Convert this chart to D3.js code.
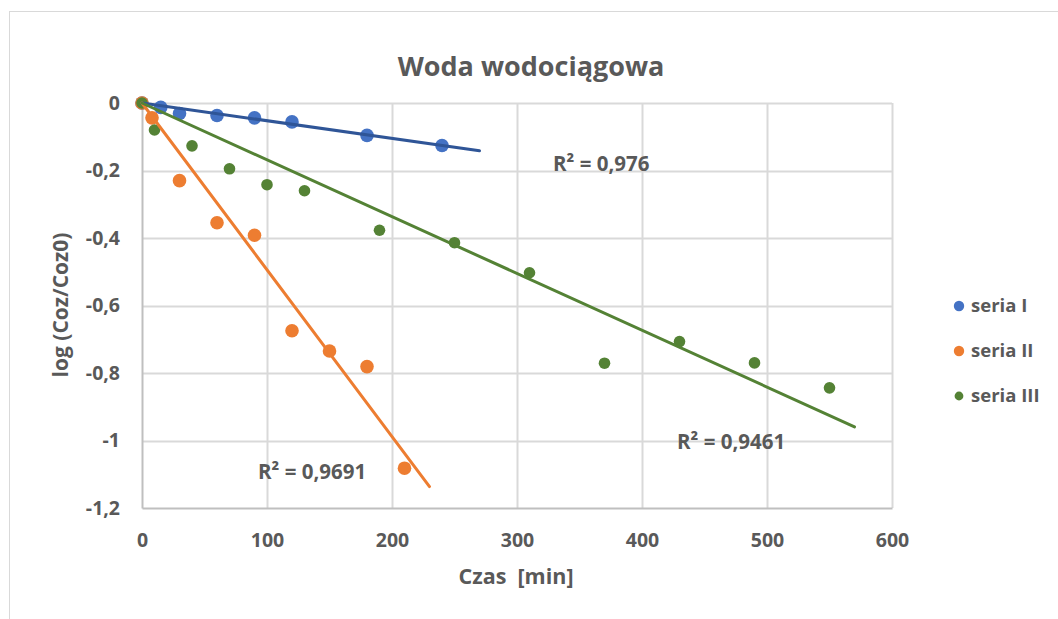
<!DOCTYPE html>
<html>
<head>
<meta charset="utf-8">
<script src="https://cdn.jsdelivr.net/npm/d3@7"></script>
<style>
  html, body { margin: 0; padding: 0; background: #ffffff; }
  svg { display: block; }
  text { font-family: "Open Sans", "DejaVu Sans", sans-serif; font-weight: 700; fill: #595959; }
</style>
</head>
<body>
<svg id="chart" width="1058" height="619"></svg>
<script>
// Czas [min] and log(Coz/Coz0) for each measurement series
const timeI   = [0, 15, 30, 60, 90, 120, 180, 240];
const logI    = [0, -0.013, -0.031, -0.037, -0.044, -0.056, -0.096, -0.126];

const timeII  = [0, 8, 30, 60, 90, 120, 150, 180, 210];
const logII   = [0, -0.044, -0.230, -0.355, -0.392, -0.675, -0.735, -0.781, -1.082];

const timeIII = [0, 10, 40, 70, 100, 130, 190, 250, 310, 370, 430, 490, 550];
const logIII  = [0, -0.080, -0.127, -0.195, -0.242, -0.260, -0.377, -0.414, -0.503, -0.771, -0.707, -0.770, -0.844];

const seriesNames = ["seria I", "seria II", "seria III"];
const rSquaredLabels = ["R² = 0,976", "R² = 0,9691", "R² = 0,9461"];
// trendline reach (forecast forward past the last measurement)
const trendEnd = [270, 230, 570];

const xTicks = [0, 100, 200, 300, 400, 500, 600];
const yTicks = [0, -0.2, -0.4, -0.6, -0.8, -1, -1.2];

const colors = {
  marker: ["#4472C4", "#ED7D31", "#548235"],
  line:   ["#2F5597", "#ED7D31", "#548235"]
};

const series = [
  { name: seriesNames[0], xs: timeI,   ys: logI,   r: 6.8, lr: 5.2 },
  { name: seriesNames[1], xs: timeII,  ys: logII,  r: 6.8, lr: 5.2 },
  { name: seriesNames[2], xs: timeIII, ys: logIII, r: 5.8, lr: 4.4 }
];

const svg = d3.select("#chart");

// outer chart frame
svg.append("rect")
  .attr("x", 9.5).attr("y", 11.5)
  .attr("width", 1070).attr("height", 640)
  .attr("fill", "#ffffff")
  .attr("stroke", "#d9d9d9").attr("stroke-width", 1);

const plot = { left: 142, right: 892, top: 103, bottom: 508 };

const x = d3.scaleLinear().domain([0, 600]).range([plot.left, plot.right]);
const y = d3.scaleLinear().domain([-1.2, 0]).range([plot.bottom, plot.top]);

const fmt = v => (v === 0 ? "0" : String(v).replace(".", ","));

// gridlines
const grid = svg.append("g");
grid.selectAll("line.h").data(yTicks.filter(v => v !== -1.2)).join("line")
  .attr("x1", plot.left).attr("x2", plot.right)
  .attr("y1", d => Math.round(y(d)) + 0.5).attr("y2", d => Math.round(y(d)) + 0.5)
  .attr("stroke", "#d9d9d9").attr("stroke-width", 2);
grid.selectAll("line.v").data(xTicks.filter(v => v !== 0)).join("line")
  .attr("y1", plot.top).attr("y2", plot.bottom)
  .attr("x1", d => Math.round(x(d)) + 0.5).attr("x2", d => Math.round(x(d)) + 0.5)
  .attr("stroke", "#d9d9d9").attr("stroke-width", 2);

// axes
const xAxis = d3.axisBottom(x).tickValues(xTicks).tickSize(0).tickFormat(fmt).tickPadding(25);
const yAxis = d3.axisLeft(y).tickValues(yTicks).tickSize(0).tickFormat(fmt).tickPadding(22);

const gx = svg.append("g").attr("transform", `translate(0,${plot.bottom})`).call(xAxis);
const gy = svg.append("g").attr("transform", `translate(${plot.left},0)`).call(yAxis);
[gx, gy].forEach(g => {
  g.select(".domain").attr("stroke", "#bfbfbf").attr("stroke-width", 2);
  g.selectAll("text").style("font-size", "19.5px").attr("fill", "#595959")
    .style("font-family", "\"Open Sans\", sans-serif").style("font-weight", 700);
});
gx.selectAll("text").attr("dy", "0.71em");

// markers
series.forEach((s, i) => {
  svg.append("g").selectAll("circle")
    .data(s.xs.map((t, k) => [t, s.ys[k]]))
    .join("circle")
    .attr("cx", d => x(d[0]))
    .attr("cy", d => y(d[1]))
    .attr("r", s.r)
    .attr("fill", colors.marker[i]);
});

// linear trendlines through the origin
const line = d3.line().x(d => x(d[0])).y(d => y(d[1]));
series.forEach((s, i) => {
  const sxy = d3.sum(s.xs, (t, k) => t * s.ys[k]);
  const sxx = d3.sum(s.xs, t => t * t);
  const slope = sxy / sxx;
  svg.append("path")
    .datum([[0, 0], [trendEnd[i], slope * trendEnd[i]]])
    .attr("d", line)
    .attr("fill", "none")
    .attr("stroke", colors.line[i])
    .attr("stroke-width", 3)
    .attr("stroke-linecap", "round");
});

// R² labels
const rLabelPos = [[553, 171], [258, 479], [677, 449]];
svg.append("g").selectAll("text")
  .data(rSquaredLabels)
  .join("text")
  .attr("x", (d, i) => rLabelPos[i][0])
  .attr("y", (d, i) => rLabelPos[i][1])
  .style("font-size", "20.5px")
  .text(d => d);

// title
svg.append("text")
  .attr("x", 531).attr("y", 76)
  .attr("text-anchor", "middle")
  .style("font-size", "27px")
  .text("Woda wodociągowa");

// axis titles
svg.append("text")
  .attr("x", 516).attr("y", 584)
  .attr("text-anchor", "middle")
  .style("font-size", "21.5px")
  .attr("xml:space", "preserve")
  .text("Czas  [min]");

svg.append("text")
  .attr("transform", "translate(68,305) rotate(-90)")
  .attr("text-anchor", "middle")
  .style("font-size", "21px")
  .text("log (Coz/Coz0)");

// legend
const legendY = [306, 351, 396];
const legend = svg.append("g");
series.forEach((s, i) => {
  legend.append("circle")
    .attr("cx", 959).attr("cy", legendY[i])
    .attr("r", s.lr)
    .attr("fill", colors.marker[i]);
  legend.append("text")
    .attr("x", 971).attr("y", legendY[i] + 6)
    .style("font-size", "18.5px")
    .text(s.name);
});
</script>
</body>
</html>
